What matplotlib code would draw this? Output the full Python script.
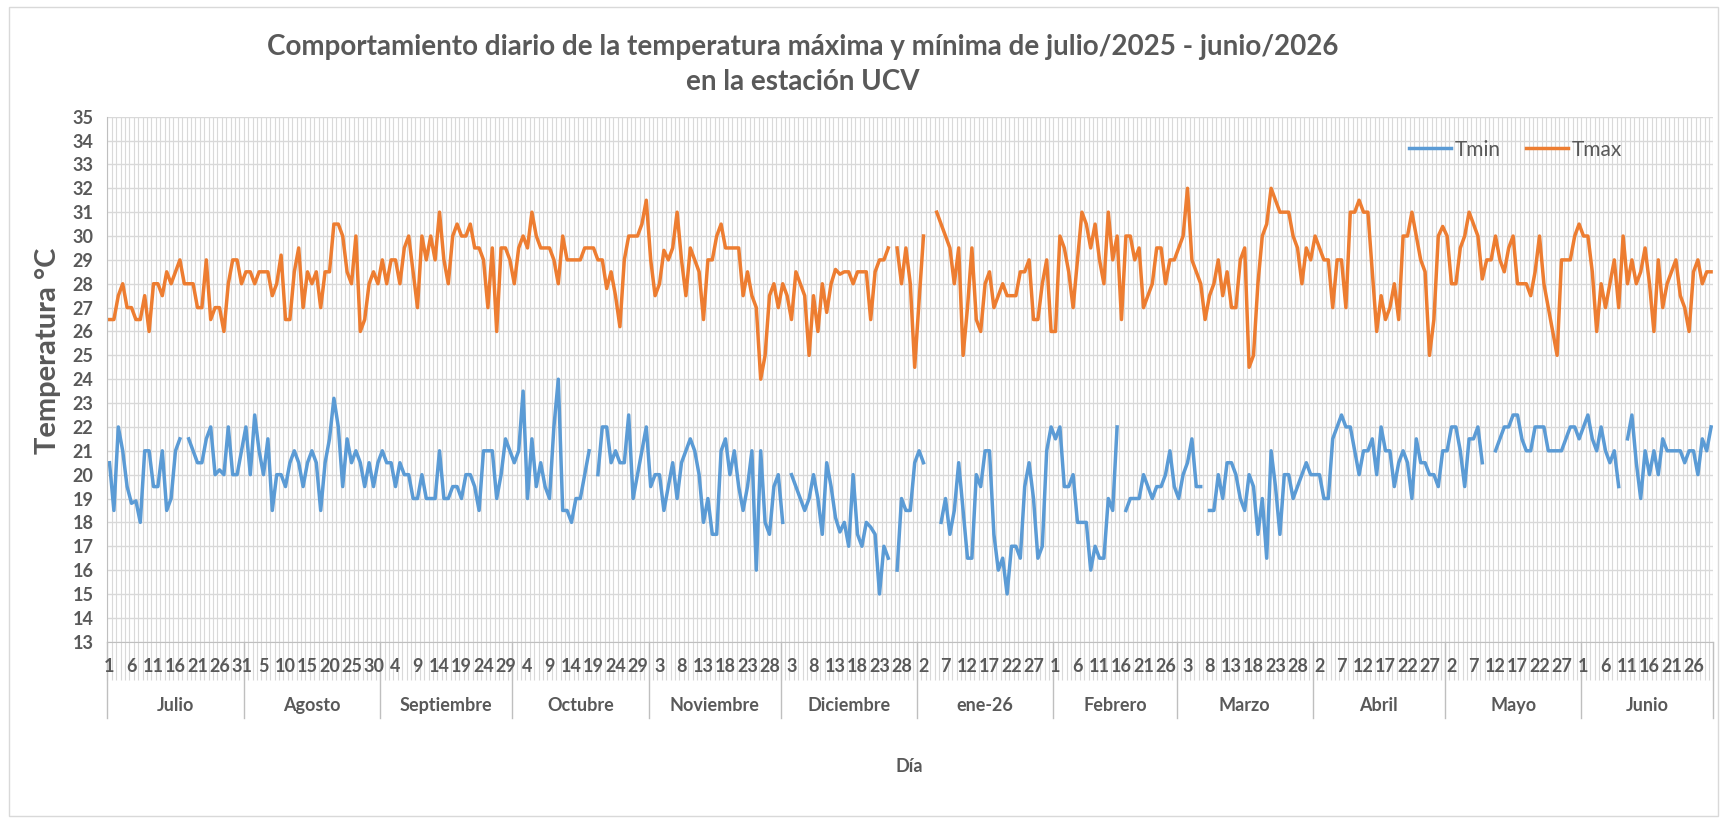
import numpy as np
import matplotlib
matplotlib.use("Agg")
import matplotlib.pyplot as plt
from matplotlib.patches import Rectangle

# meses del periodo julio/2025 - junio/2026
meses = ["Julio", "Agosto", "Septiembre", "Octubre", "Noviembre", "Diciembre",
         "ene-26", "Febrero", "Marzo", "Abril", "Mayo", "Junio"]
dias_mes = [31, 31, 30, 31, 30, 31, 31, 28, 31, 30, 31, 30]

# temperatura minima diaria (None = sin dato)
tmin = [
    20.5, 18.5, 22, 21, 19.5, 18.8, 18.9, 18, 21, 21, 19.5, 19.5, 21, 18.5, 19, 21,
    21.5, None, 21.5, 21, 20.5, 20.5, 21.5, 22, 20, 20.2, 20, 22, 20, 20, 21,
    22, 20, 22.5, 21, 20, 21.5, 18.5, 20, 20, 19.5, 20.5, 21, 20.5, 19.5, 20.5, 21,
    20.5, 18.5, 20.5, 21.5, 23.2, 22, 19.5, 21.5, 20.5, 21, 20.5, 19.5, 20.5, 19.5, 20.5,
    21, 20.5, 20.5, 19.5, 20.5, 20, 20, 19, 19, 20, 19, 19, 19, 21, 19,
    19, 19.5, 19.5, 19, 20, 20, 19.5, 18.5, 21, 21, 21, 19, 20, 21.5, 21,
    20.5, 21, 23.5, 19, 21.5, 19.5, 20.5, 19.5, 19, 22, 24, 18.5, 18.5, 18, 19, 19,
    20, 21, None, 20, 22, 22, 20.5, 21, 20.5, 20.5, 22.5, 19, 20, 21, 22,
    19.5, 20, 20, 18.5, 19.5, 20.5, 19, 20.5, 21, 21.5, 21, 20, 18, 19, 17.5,
    17.5, 21, 21.5, 20, 21, 19.5, 18.5, 19.5, 21, 16, 21, 18, 17.5, 19.5, 20,
    18, None, 20, 19.5, 19, 18.5, 19, 20, 19, 17.5, 20.5, 19.5, 18.2, 17.6, 18, 17,
    20, 17.5, 17, 18, 17.8, 17.5, 15, 17, 16.5, None, 16, 19, 18.5, 18.5, 20.5,
    21, 20.5, None, None, None, 18, 19, 17.5, 18.5, 20.5, 18.5, 16.5, 16.5, 20, 19.5, 21,
    21, 17.5, 16, 16.5, 15, 17, 17, 16.5, 19.5, 20.5, 19, 16.5, 17, 21, 22,
    21.5, 22, 19.5, 19.5, 20, 18, 18, 18, 16, 17, 16.5, 16.5, 19, 18.5,
    22, None, 18.5, 19, 19, 19, 20, 19.5, 19, 19.5, 19.5, 20, 21, 19.5,
    19, 20, 20.5, 21.5, 19.5, 19.5, None, 18.5, 18.5, 20, 19, 20.5, 20.5, 20, 19, 18.5,
    20, 19.5, 17.5, 19, 16.5, 21, 19.5, 17.5, 20, 20, 19, 19.5, 20, 20.5, 20,
    20, 20, 19, 19, 21.5, 22, 22.5, 22, 22, 21, 20, 21, 21, 21.5, 20,
    22, 21, 21, 19.5, 20.5, 21, 20.5, 19, 21.5, 20.5, 20.5, 20, 20, 19.5, 21,
    21, 22, 22, 21, 19.5, 21.5, 21.5, 22, 20.5, None, None, 21, 21.5, 22, 22, 22.5,
    22.5, 21.5, 21, 21, 22, 22, 22, 21, 21, 21, 21, 21.5, 22, 22, 21.5,
    22, 22.5, 21.5, 21, 22, 21, 20.5, 21, 19.5, None, 21.5, 22.5, 20.5, 19, 21,
    20, 21, 20, 21.5, 21, 21, 21, 21, 20.5, 21, 21, 20, 21.5, 21, 22,
]

# temperatura maxima diaria (None = sin dato)
tmax = [
    26.5, 26.5, 27.5, 28, 27, 27, 26.5, 26.5, 27.5, 26, 28, 28, 27.5, 28.5, 28, 28.5,
    29, 28, 28, 28, 27, 27, 29, 26.5, 27, 27, 26, 28, 29, 29, 28,
    28.5, 28.5, 28, 28.5, 28.5, 28.5, 27.5, 28, 29.2, 26.5, 26.5, 28.5, 29.5, 27, 28.5, 28,
    28.5, 27, 28.5, 28.5, 30.5, 30.5, 30, 28.5, 28, 30, 26, 26.5, 28, 28.5, 28,
    29, 28, 29, 29, 28, 29.5, 30, 28.5, 27, 30, 29, 30, 29, 31, 29,
    28, 30, 30.5, 30, 30, 30.5, 29.5, 29.5, 29, 27, 29.5, 26, 29.5, 29.5, 29,
    28, 29.5, 30, 29.5, 31, 30, 29.5, 29.5, 29.5, 29, 28, 30, 29, 29, 29, 29,
    29.5, 29.5, 29.5, 29, 29, 27.8, 28.5, 27.5, 26.2, 29, 30, 30, 30, 30.5, 31.5,
    29, 27.5, 28, 29.4, 29, 29.5, 31, 29, 27.5, 29.5, 29, 28.5, 26.5, 29, 29,
    30, 30.5, 29.5, 29.5, 29.5, 29.5, 27.5, 28.5, 27.5, 27, 24, 25, 27.5, 28, 27,
    28, 27.5, 26.5, 28.5, 28, 27.5, 25, 27.5, 26, 28, 26.8, 28, 28.6, 28.4, 28.5, 28.5,
    28, 28.5, 28.5, 28.5, 26.5, 28.5, 29, 29, 29.5, None, 29.5, 28, 29.5, 28, 24.5,
    27.3, 30, None, None, 31, 30.5, 30, 29.5, 28, 29.5, 25, 27, 29.5, 26.5, 26, 28,
    28.5, 27, 27.5, 28, 27.5, 27.5, 27.5, 28.5, 28.5, 29, 26.5, 26.5, 28, 29, 26,
    26, 30, 29.5, 28.5, 27, 29, 31, 30.5, 29.5, 30.5, 29, 28, 31, 29,
    30, 26.5, 30, 30, 29, 29.5, 27, 27.5, 28, 29.5, 29.5, 28, 29, 29,
    29.5, 30, 32, 29, 28.5, 28, 26.5, 27.5, 28, 29, 27.5, 28.5, 27, 27, 29, 29.5,
    24.5, 25, 28, 30, 30.5, 32, 31.5, 31, 31, 31, 30, 29.5, 28, 29.5, 29,
    30, 29.5, 29, 29, 27, 29, 29, 27, 31, 31, 31.5, 31, 31, 28.5, 26,
    27.5, 26.5, 27, 28, 26.5, 30, 30, 31, 30, 29, 28.5, 25, 26.5, 30, 30.4,
    30, 28, 28, 29.5, 30, 31, 30.5, 30, 28.2, 29, 29, 30, 29, 28.5, 29.5, 30,
    28, 28, 28, 27.5, 28.5, 30, 28, 27, 26, 25, 29, 29, 29, 30, 30.5,
    30, 30, 28.5, 26, 28, 27, 28, 29, 27, 30, 28, 29, 28, 28.5, 29.5,
    28, 26, 29, 27, 28, 28.5, 29, 27.5, 27, 26, 28.5, 29, 28, 28.5, 28.5,
]

gris = "#595959"
plt.rcParams["font.family"] = ["Lato", "DejaVu Sans"]

fig = plt.figure(figsize=(17.22, 8.18), dpi=100)
W, H = 1722, 818
ax = fig.add_axes([107.3 / W, 1 - 641.7 / H, 1606 / W, 525 / H])

x = np.arange(len(tmin))
ax.plot(x, np.array(tmin, dtype=float), color="#5B9BD5", lw=2.5, label="Tmin")
ax.plot(x, np.array(tmax, dtype=float), color="#ED7D31", lw=2.5, label="Tmax")

ax.set_xlim(-0.5, len(x) - 0.5)
ax.set_ylim(13, 35)
ax.set_yticks(range(13, 36))
ax.tick_params(axis="y", length=0, pad=10, labelsize=13, labelcolor=gris)
for t in ax.get_yticklabels():
    t.set_fontweight("bold")

# lineas por dia
ax.set_xticks([])
ax.set_xticks(np.arange(-0.5, len(x)), minor=True)
ax.tick_params(axis="x", which="minor", length=27, width=0.8, color="#D9D9D9")
ax.grid(which="minor", axis="x", color="#D9D9D9", lw=0.8)
ax.grid(which="major", axis="y", color="#D9D9D9", lw=1.0)
ax.set_axisbelow(True)
for s in ["top", "right"]:
    ax.spines[s].set_visible(False)
for s in ["left", "bottom"]:
    ax.spines[s].set_color("#BFBFBF")

# etiquetas de dias y meses
dia = [d for n in dias_mes for d in range(1, n + 1)]
trans = ax.get_xaxis_transform()
for i in range(0, len(x), 5):
    ax.text(i, -0.048, str(dia[i]), transform=trans, ha="center", va="center",
            fontsize=13, fontweight="bold", color=gris)

inicio = np.cumsum([0] + dias_mes)
for k, m in enumerate(meses):
    centro = (inicio[k] + inicio[k + 1]) / 2 - 0.5
    ax.text(centro, -0.122, m, transform=trans, ha="center", va="center",
            fontsize=13, fontweight="bold", color=gris)
for b in inicio:
    ax.plot([b - 0.5, b - 0.5], [0, -0.145], transform=trans, clip_on=False,
            color="#BFBFBF", lw=1)

leg = ax.legend(loc="center right", bbox_to_anchor=(0.955, 0.937), ncol=2,
                frameon=False, fontsize=15, handlelength=2.0, handletextpad=0.2,
                columnspacing=1.2)
for t in leg.get_texts():
    t.set_color(gris)

fig.text(803 / W, 1 - 47 / H,
         "Comportamiento diario de la temperatura máxima y mínima de julio/2025 - junio/2026",
         ha="center", va="center", fontsize=20, fontweight="bold", color=gris)
fig.text(803 / W, 1 - 82 / H, "en la estación UCV",
         ha="center", va="center", fontsize=20, fontweight="bold", color=gris)
fig.text(48 / W, 1 - 351 / H, "Temperatura °C", rotation=90, ha="center", va="center",
         fontsize=21, fontweight="bold", color=gris)
fig.text(909 / W, 1 - 766 / H, "Día", ha="center", va="center",
         fontsize=13, fontweight="bold", color=gris)

fig.patches.append(Rectangle((9 / W, 2 / H), 1709 / W, 809 / H, transform=fig.transFigure,
                             fill=False, edgecolor="#D9D9D9", lw=1))

fig.savefig("out.png", dpi=100)
